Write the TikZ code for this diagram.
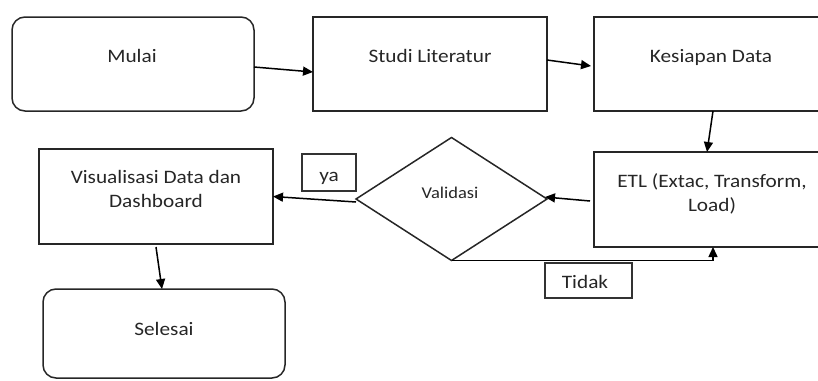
\documentclass[tikz,border=0pt]{standalone}
\usepackage{fontspec}
\setmainfont[FakeStretch=1.12]{Carlito}
\usetikzlibrary{arrows.meta,shapes.geometric}
\begin{document}
\begin{tikzpicture}[x=1pt,y=-1pt,
  every node/.style={inner sep=0pt,outer sep=0pt},
  box/.style={draw=black!85,line width=1.5pt,rectangle},
  term/.style={box,rounded corners=13pt},
  lbl/.style={font=\fontsize{19}{24}\selectfont,text=black!85,align=center},
  tag/.style={draw=black!80,line width=1.2pt,rectangle},
  conn/.style={draw=black,line width=1.5pt,-{Triangle[length=10pt,width=9pt]}}
]
\useasboundingbox (0,0) rectangle (818,380);
\clip (0,0) rectangle (818,380);
% boxes
\node[term,minimum width=242pt,minimum height=94pt] (mulai) at (133,64) {};
\node[box,minimum width=234pt,minimum height=94pt] (studi) at (430,64) {};
\node[box,minimum width=241pt,minimum height=94pt] (kes) at (714.5,64) {};
\node[box,minimum width=241pt,minimum height=95pt] (etl) at (714.5,199.5) {};
\node[box,minimum width=234pt,minimum height=95pt] (vis) at (156,196.5) {};
\node[term,minimum width=242pt,minimum height=89pt] (sel) at (164,333.5) {};
\node[draw=black!85,line width=1.5pt,diamond,minimum width=191pt,minimum height=123pt] (val) at (451.5,199) {};
% labels in boxes
\node[lbl,anchor=base] (tmulai) at (132,62) {Mulai};
\node[lbl,anchor=base] (tstudi) at (430,62) {Studi Literatur};
\node[lbl,anchor=base] (tkes) at (711,62) {Kesiapan Data};
\node[lbl,anchor=center] (tetl) at (712,194) {ETL (Extac, Transform,\\Load)};
\node[lbl,anchor=center] (tvis) at (156,189) {Visualisasi Data dan\\Dashboard};
\node[lbl,anchor=base] (tsel) at (164,335) {Selesai};
\node[lbl,anchor=base,font=\fontsize{16.5}{22}\selectfont] (tval) at (450,198) {Validasi};
% tags
\node[tag,minimum width=54pt,minimum height=37pt] (ya) at (329,172.5) {};
\node[lbl,anchor=base] (tya) at (329,181) {ya};
\node[tag,minimum width=87pt,minimum height=35pt] (tidak) at (588.5,280.5) {};
\node[lbl,anchor=base] (ttidak) at (585,288) {Tidak};
% connectors
\draw[conn] ([yshift=-3pt]mulai.east) -- ([yshift=-8pt]studi.west);
\draw[conn] ([yshift=4pt]studi.east) -- ([xshift=-3pt,yshift=-2pt]kes.west);
\draw[conn] ([xshift=-1.5pt]kes.south) -- ([xshift=-7.5pt]etl.north);
\draw[conn] ([xshift=-4pt,yshift=-1.5pt]etl.west) -- ([xshift=-2pt,yshift=2pt]val.east);
\draw[conn] ([yshift=-3pt]val.west) -- (vis.east);
\draw[conn] ([yshift=-3pt]vis.south) -- ([xshift=-2pt]sel.north);
\draw[conn] (val.south) -| ([xshift=-1.5pt]etl.south);
\end{tikzpicture}
\end{document}
